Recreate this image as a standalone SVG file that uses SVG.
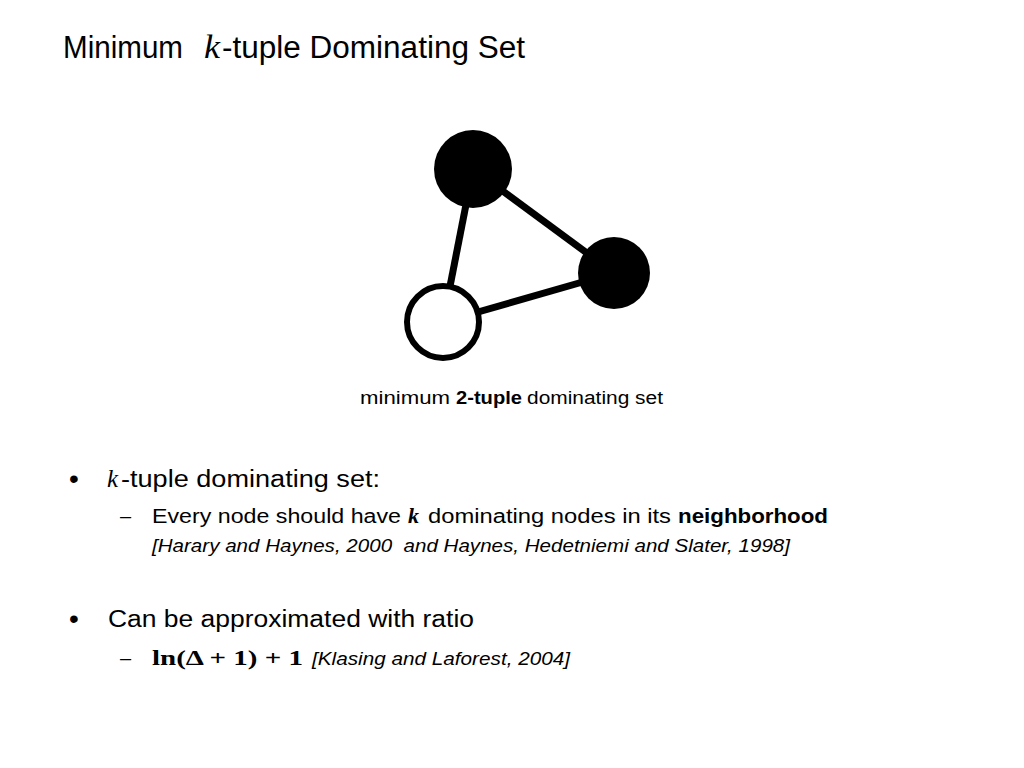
<svg xmlns="http://www.w3.org/2000/svg" width="1024" height="768" viewBox="0 0 1024 768">
<style>
.s{font-family:"Liberation Sans","Noto Sans",sans-serif;fill:#000}
.m{font-family:"Liberation Serif","DejaVu Serif",serif;fill:#000}
.edge{stroke:#000;stroke-width:7;stroke-linecap:butt}
.b{font-family:"Liberation Sans","Noto Sans",sans-serif;fill:#000;font-size:28px}
</style>
<rect width="1024" height="768" fill="#fff"/>
<g id="title">
<text class="s" x="63" y="58" font-size="31" textLength="120" lengthAdjust="spacingAndGlyphs">Minimum</text>
<text class="m" x="204" y="58" font-size="33" font-style="italic" textLength="16" lengthAdjust="spacingAndGlyphs">k</text>
<text class="s" x="222" y="58" font-size="31" textLength="303" lengthAdjust="spacingAndGlyphs">-tuple Dominating Set</text>
</g>
<g id="connectors">
<line class="edge" x1="473" y1="169" x2="443" y2="322"/>
<line class="edge" x1="473" y1="169" x2="614" y2="273"/>
<line class="edge" x1="443" y1="322" x2="614" y2="273"/>
</g>
<g id="node-top"><circle cx="473" cy="169" r="39" fill="#000"/></g>
<g id="node-right"><circle cx="614" cy="273" r="36" fill="#000"/></g>
<g id="node-bottom"><circle cx="443" cy="322" r="36" fill="#fff" stroke="#000" stroke-width="6"/></g>
<g id="caption">
<text class="s" x="360" y="404" font-size="18" textLength="90" lengthAdjust="spacingAndGlyphs">minimum</text>
<text class="s" x="456" y="404" font-size="18" font-weight="bold" textLength="66" lengthAdjust="spacingAndGlyphs">2-tuple</text>
<text class="s" x="527" y="404" font-size="18" textLength="136" lengthAdjust="spacingAndGlyphs">dominating set</text>
</g>
<g id="bullets">
<text class="b" x="69" y="488">•</text>
<text class="m" x="107" y="487" font-size="25" font-style="italic">k</text>
<text class="s" x="121" y="487" font-size="23" textLength="259" lengthAdjust="spacingAndGlyphs">-tuple dominating set:</text>
<text class="s" x="120" y="523" font-size="20">–</text>
<text class="s" x="152" y="523" font-size="20" textLength="249" lengthAdjust="spacingAndGlyphs">Every node should have</text>
<text class="m" x="408" y="523" font-size="22" font-style="italic" font-weight="bold">k</text>
<text class="s" x="428" y="523" font-size="20" textLength="243" lengthAdjust="spacingAndGlyphs">dominating nodes in its</text>
<text class="s" x="678" y="523" font-size="20" font-weight="bold" textLength="150" lengthAdjust="spacingAndGlyphs">neighborhood</text>
<text class="s" x="152" y="552" font-size="19" font-style="italic" textLength="638" lengthAdjust="spacingAndGlyphs" xml:space="preserve">[Harary and Haynes, 2000  and Haynes, Hedetniemi and Slater, 1998]</text>
<text class="b" x="69" y="628">•</text>
<text class="s" x="108" y="627" font-size="23" textLength="366" lengthAdjust="spacingAndGlyphs">Can be approximated with ratio</text>
<text class="s" x="120" y="665" font-size="20">–</text>
<text class="m" x="152" y="665" font-size="22" font-weight="bold" textLength="151" lengthAdjust="spacingAndGlyphs" xml:space="preserve">ln(Δ + 1) + 1</text>
<text class="s" x="312" y="665" font-size="18" font-style="italic" textLength="258" lengthAdjust="spacingAndGlyphs">[Klasing and Laforest, 2004]</text>
</g>
</svg>
